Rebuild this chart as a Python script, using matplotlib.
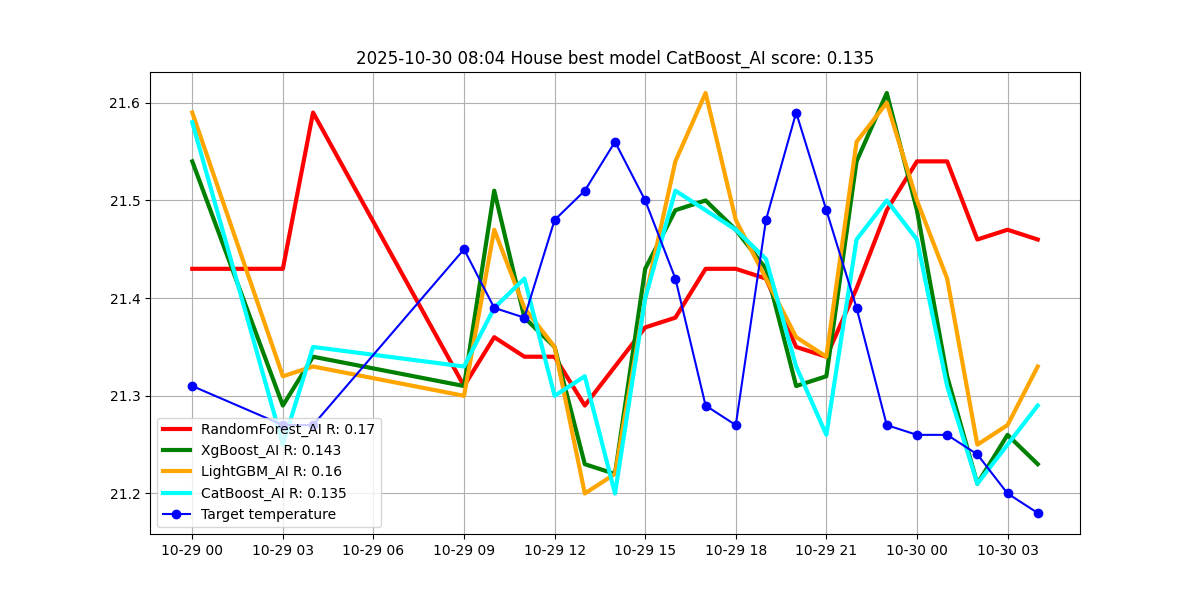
import numpy as np
import pandas as pd
import matplotlib
matplotlib.use('Agg')
import matplotlib.pyplot as plt
import matplotlib.dates as mdates

# hours since 2025-10-29 00:00
hours = [0, 3, 4, 9, 10, 11, 12, 13, 14, 15, 16, 17, 18, 19, 20, 21, 22, 23, 24, 25, 26, 27, 28]
times = pd.Timestamp('2025-10-29 00:00') + pd.to_timedelta(hours, unit='h')

random_forest = [21.43, 21.43, 21.59, 21.31, 21.36, 21.34, 21.34, 21.29, 21.33, 21.37, 21.38, 21.43,
                 21.43, 21.42, 21.35, 21.34, 21.41, 21.49, 21.54, 21.54, 21.46, 21.47, 21.46]
xgboost = [21.54, 21.29, 21.34, 21.31, 21.51, 21.38, 21.35, 21.23, 21.22, 21.43, 21.49, 21.50,
           21.47, 21.43, 21.31, 21.32, 21.54, 21.61, 21.49, 21.32, 21.21, 21.26, 21.23]
lightgbm = [21.59, 21.32, 21.33, 21.30, 21.47, 21.39, 21.35, 21.20, 21.22, 21.40, 21.54, 21.61,
            21.48, 21.42, 21.36, 21.34, 21.56, 21.60, 21.50, 21.42, 21.25, 21.27, 21.33]
catboost = [21.58, 21.25, 21.35, 21.33, 21.39, 21.42, 21.30, 21.32, 21.20, 21.40, 21.51, 21.49,
            21.47, 21.44, 21.33, 21.26, 21.46, 21.50, 21.46, 21.31, 21.21, 21.25, 21.29]
target = [21.31, 21.27, 21.27, 21.45, 21.39, 21.38, 21.48, 21.51, 21.56, 21.50, 21.42, 21.29,
          21.27, 21.48, 21.59, 21.49, 21.39, 21.27, 21.26, 21.26, 21.24, 21.20, 21.18]

fig, ax = plt.subplots(figsize=(12, 6), dpi=100)
ax.plot(times, random_forest, color='red', lw=3, label='RandomForest_AI R: 0.17')
ax.plot(times, xgboost, color='green', lw=3, label='XgBoost_AI R: 0.143')
ax.plot(times, lightgbm, color='orange', lw=3, label='LightGBM_AI R: 0.16')
ax.plot(times, catboost, color='cyan', lw=3, label='CatBoost_AI R: 0.135')
ax.plot(times, target, color='blue', marker='o', lw=1.5, label='Target temperature')

ax.xaxis.set_major_locator(mdates.HourLocator(interval=3))
ax.xaxis.set_major_formatter(mdates.DateFormatter('%m-%d %H'))
ax.set_title('2025-10-30 08:04 House best model CatBoost_AI score: 0.135')
ax.grid(True)
ax.legend(loc='lower left')
plt.savefig('out.png', dpi=100)
